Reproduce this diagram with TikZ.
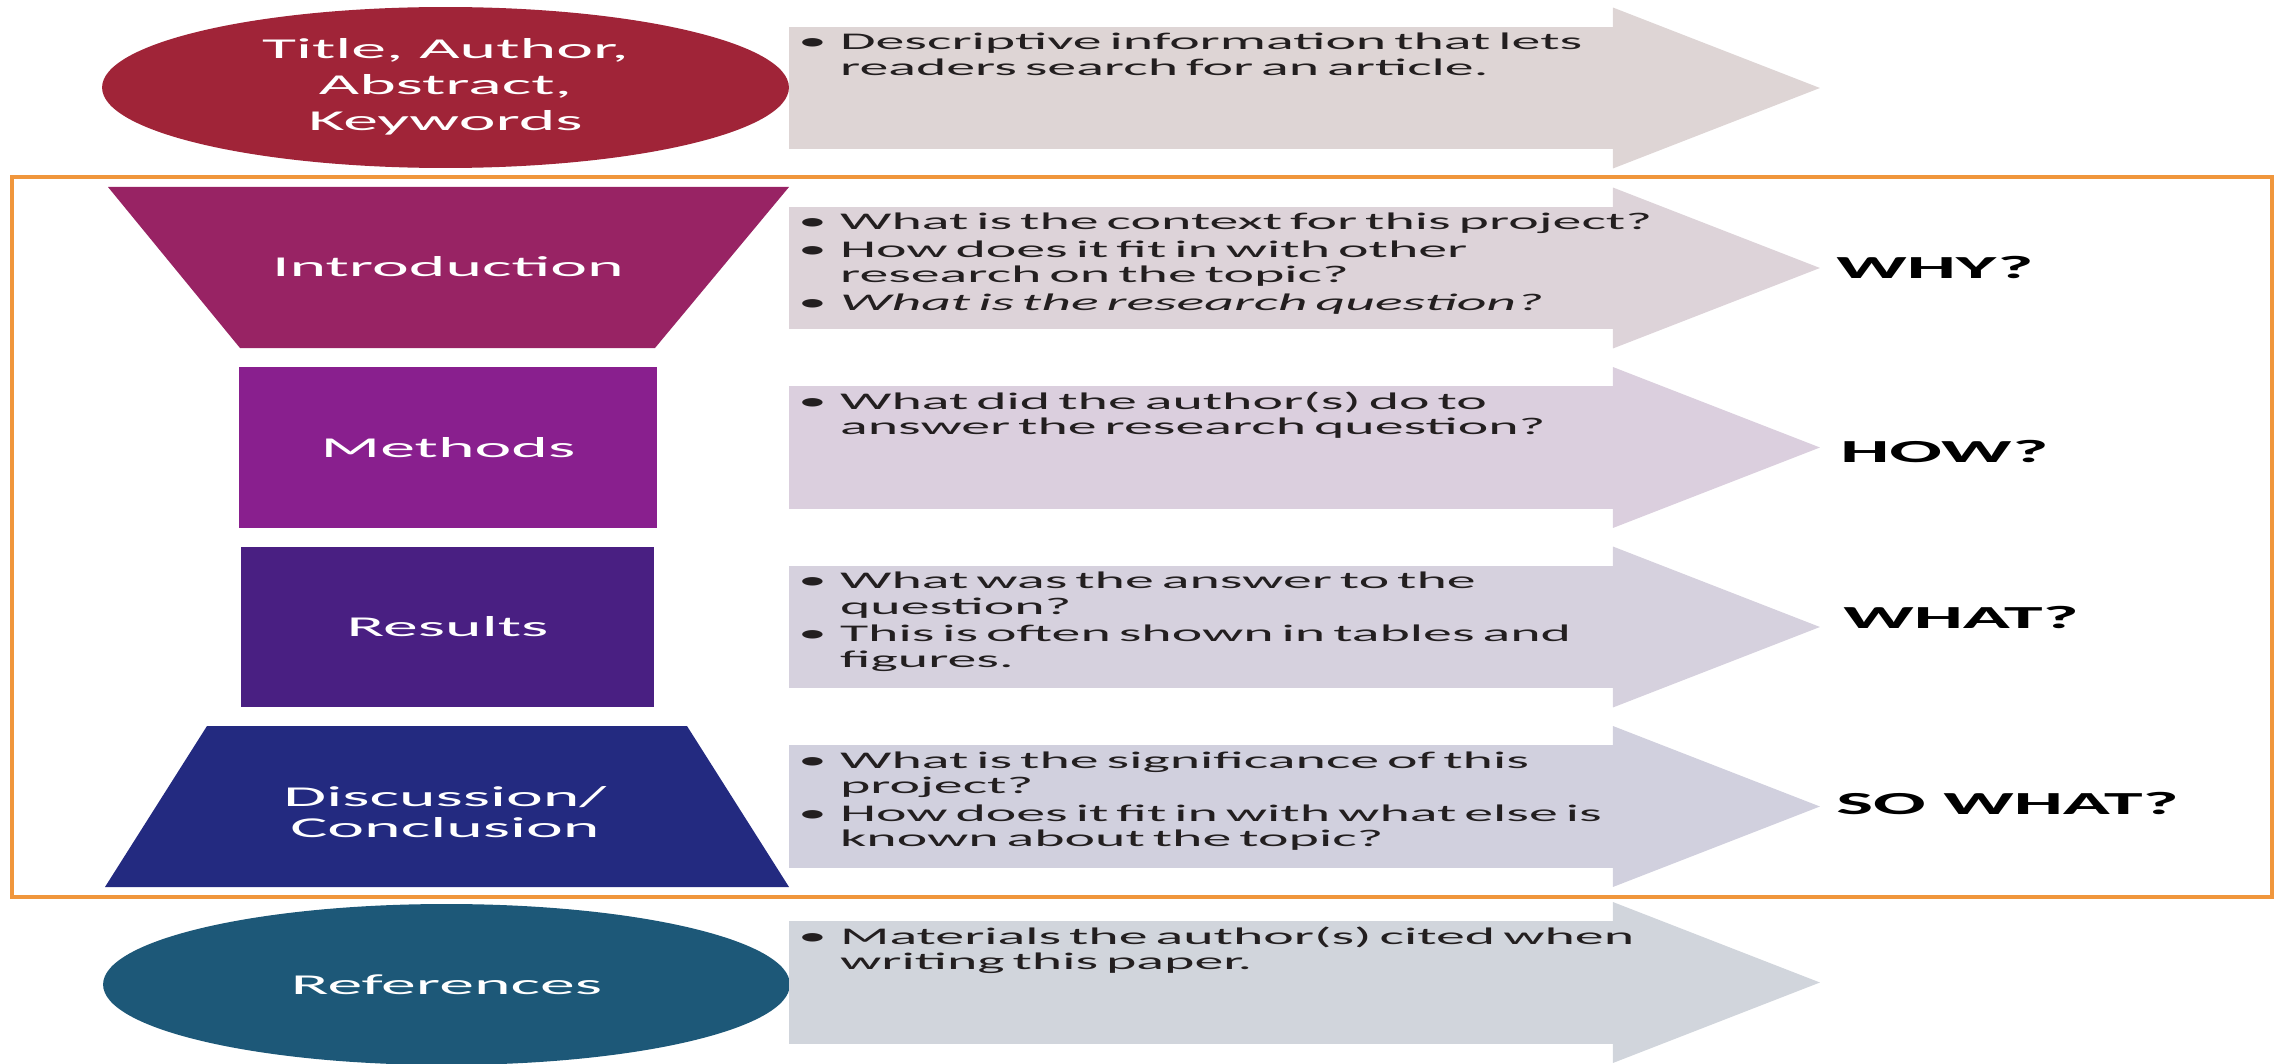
\documentclass[tikz,border=0pt]{standalone}
\usepackage{fontspec}
\setmainfont[FakeStretch=2.42]{Carlito}
\usepackage{tikz}
\usetikzlibrary{calc, shapes.geometric}

\definecolor{titlered}{RGB}{160, 36, 56}
\definecolor{intromag}{RGB}{152, 35, 100}
\definecolor{methpurp}{RGB}{137, 31, 142}
\definecolor{respurp}{RGB}{73, 31, 130}
\definecolor{discnavy}{RGB}{35, 42, 128}
\definecolor{refteal}{RGB}{29, 88, 120}
\definecolor{arrA}{RGB}{222, 213, 213}
\definecolor{arrB}{RGB}{221, 211, 217}
\definecolor{arrC}{RGB}{219, 207, 222}
\definecolor{arrD}{RGB}{214, 209, 222}
\definecolor{arrE}{RGB}{209, 208, 222}
\definecolor{arrF}{RGB}{209, 213, 220}
\definecolor{frameorange}{RGB}{240, 150, 60}
\definecolor{txtdark}{RGB}{35, 31, 32}

\tikzstyle{shaft} = [draw=none, inner sep=0, outer sep=0,
    minimum width=16.5cm, minimum height=2.46cm]
\tikzstyle{body} = [inner sep=0, outer sep=0, anchor=north west,
    text width=18cm, align=left, text=txtdark,
    font=\fontsize{13.6}{14.5}\selectfont,
    execute at begin node={\setlength{\parskip}{0.04cm}}]
\tikzstyle{tag} = [inner sep=0, outer sep=0, text=white, align=center,
    font=\fontsize{16.4}{17.4}\selectfont]
\tikzstyle{oval} = [ellipse, inner sep=0, minimum width=13.74cm, minimum height=3.22cm]
\tikzstyle{block} = [rectangle, inner sep=0, minimum height=3.22cm]
\tikzstyle{ask} = [anchor=west, inner sep=0, font=\fontsize{18.3}{20}\selectfont\bfseries]

% one bullet line, later lines hang under the text
\newcommand{\bpt}[1]{\par\noindent\hangindent=0.84cm\hangafter=1%
    \strut\makebox[0.84cm][l]{\textbullet}#1\par}

\begin{document}
\begin{tikzpicture}[x=0.02cm, y=-0.02cm]
\useasboundingbox (0,0) rectangle (2279,1064);

% frame round the four middle sections
\draw[frameorange, line width=0.07cm] (12,177) rectangle (2272,897);

%%% TITLE, AUTHOR, ...
\node[oval, fill=titlered] (title) at (445.5,87.5) {};
\node[tag] (titletxt) at ($(title.center)+(0,-1)$) {Title, Author,\\[0.11cm]Abstract,\\[0.11cm]Keywords};
\node[shaft, fill=arrA] (a1) at (1201.5,88) {};
\fill[arrA] ($(a1.north east)+(-1,0)$) -- ++(0,-19) -- ($(a1.east)+(206,0)$)
    -- ($(a1.south east)+(-1,19)$) -- ($(a1.south east)+(-1,0)$) -- cycle;
\node[body] (t1) at ($(a1.north west)+(9,-4)$) {%
    \bpt{Descriptive information that lets\newline readers search for an article.}};

%%% INTRODUCTION
\fill[intromag] (108,187) -- (789,187) -- (655,348) -- (240,348) -- cycle;
\node[tag] (intro) at (448,267) {Introduction};
\node[shaft, fill=arrB] (a2) at (1201.5,268) {};
\fill[arrB] ($(a2.north east)+(-1,0)$) -- ++(0,-19) -- ($(a2.east)+(206,0)$)
    -- ($(a2.south east)+(-1,19)$) -- ($(a2.south east)+(-1,0)$) -- cycle;
\node[body] (t2) at ($(a2.north west)+(9,-4)$) {%
    \bpt{What is the context for this project?}
    \bpt{How does it fit in with other\newline research on the topic?}
    \bpt{\itshape What is the research question?}};
\node[ask] (why) at (1836,268) {WHY?};

%%% METHODS
\node[block, fill=methpurp, minimum width=8.36cm] (meth) at (448,447.5) {};
\node[tag] (methtxt) at (meth.center) {Methods};
\node[shaft, fill=arrC] (a3) at (1201.5,447.5) {};
\fill[arrC] ($(a3.north east)+(-1,0)$) -- ++(0,-19) -- ($(a3.east)+(206,0)$)
    -- ($(a3.south east)+(-1,19)$) -- ($(a3.south east)+(-1,0)$) -- cycle;
\node[body] (t3) at ($(a3.north west)+(9,-4)$) {%
    \bpt{What did the author(s) do to\newline answer the research question?}};
\node[ask] (how) at (1840,452) {HOW?};

%%% RESULTS
\node[block, fill=respurp, minimum width=8.26cm] (res) at (447.5,627) {};
\node[tag] (restxt) at (res.center) {Results};
\node[shaft, fill=arrD] (a4) at (1201.5,627) {};
\fill[arrD] ($(a4.north east)+(-1,0)$) -- ++(0,-19) -- ($(a4.east)+(206,0)$)
    -- ($(a4.south east)+(-1,19)$) -- ($(a4.south east)+(-1,0)$) -- cycle;
\node[body] (t4) at ($(a4.north west)+(9,-4)$) {%
    \bpt{What was the answer to the\newline question?}
    \bpt{This is often shown in tables and\newline figures.}};
\node[ask] (what) at (1843,618) {WHAT?};

%%% DISCUSSION
\fill[discnavy] (207,726) -- (687,726) -- (789,887) -- (105,887) -- cycle;
\node[tag] (disc) at (445,812) {Discussion/\\Conclusion};
\node[shaft, fill=arrE] (a5) at (1201.5,806.5) {};
\fill[arrE] ($(a5.north east)+(-1,0)$) -- ++(0,-19) -- ($(a5.east)+(206,0)$)
    -- ($(a5.south east)+(-1,19)$) -- ($(a5.south east)+(-1,0)$) -- cycle;
\node[body] (t5) at ($(a5.north west)+(9,-4)$) {%
    \bpt{What is the significance of this\newline project?}
    \bpt{How does it fit in with what else is\newline known about the topic?}};
\node[ask] (sowhat) at (1836,804) {SO WHAT?};

%%% REFERENCES
\node[oval, fill=refteal] (refs) at (446.5,984.5) {};
\node[tag] (refstxt) at (refs.center) {References};
\node[shaft, fill=arrF] (a6) at (1201.5,982.5) {};
\fill[arrF] ($(a6.north east)+(-1,0)$) -- ++(0,-19) -- ($(a6.east)+(206,0)$)
    -- ($(a6.south east)+(-1,19)$) -- ($(a6.south east)+(-1,0)$) -- cycle;
\node[body] (t6) at ($(a6.north west)+(9,-4)$) {%
    \bpt{Materials the author(s) cited when\newline writing this paper.}};

\end{tikzpicture}
\end{document}
